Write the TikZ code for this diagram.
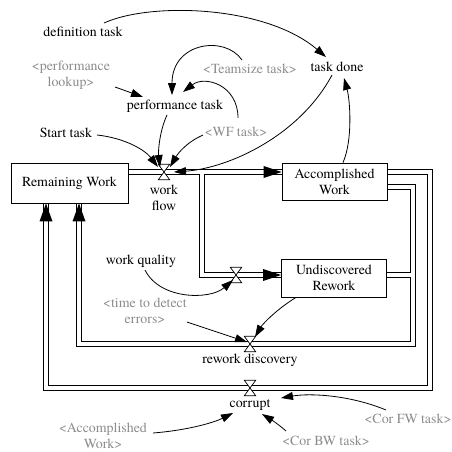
\documentclass[tikz,border=0pt]{standalone}
\usepackage{fontspec}
\setmainfont{texgyretermes}[Extension=.otf, UprightFont=*-regular, BoldFont=*-bold, ItalicFont=*-italic, BoldItalicFont=*-bolditalic]
\usetikzlibrary{arrows.meta,calc}
\definecolor{vgray}{gray}{0.55}
\pgfdeclarelayer{bg}
\pgfsetlayers{bg,main}
\begin{document}
\begin{tikzpicture}[x=1pt,y=-1pt,
  font=\rmfamily\fontsize{13.9}{16}\selectfont,
  txt/.style={inner sep=1pt, text height=9.5pt, text depth=3pt},
  mtxt/.style={inner sep=1pt, align=center},
  shadow/.style={text=vgray},
  stock/.style={draw, line width=0.8pt, fill=white, align=center, inner sep=0pt},
  valvenode/.style={inner sep=0pt, minimum width=11pt, minimum height=15pt},
  valveline/.style={draw, fill=white, line width=0.7pt, line join=miter},
  pipeout/.style={line width=5.4pt, draw=black, line join=miter},
  pipein/.style={line width=3.4pt, draw=white, line join=miter},
  inf/.style={line width=0.8pt, -{Triangle[length=12pt,width=8pt]}},
  pipehead/.style={fill=black},
]
\useasboundingbox (0,0) rectangle (452,451);

% text nodes
\node[txt] (deftask) at (83,33) {definition task};
\node[mtxt,shadow] (perflook) at (71,75) {<performance\\lookup>};
\node[txt,shadow] (teamsize) at (250,70) {<Teamsize task>};
\node[txt] (taskdone) at (337,68) {task done};
\node[txt] (perftask) at (175,106) {performance task};
\node[txt] (starttask) at (66,134) {Start task};
\node[txt,shadow] (wftask) at (236,133) {<WF task>};
\node[mtxt] (wflabel) at (164,198) {work\\flow};
\node[txt] (wq) at (141,261) {work quality};
\node[mtxt,shadow] (ttde) at (145,311) {<time to detect\\errors>};
\node[txt] (rdlabel) at (250,360) {rework discovery};
\node[txt] (corlabel) at (250,404) {corrupt};
\node[mtxt,shadow] (accw) at (103,436) {<Accomplished\\Work>};
\node[txt,shadow] (corbw) at (326,442) {<Cor BW task>};
\node[txt,shadow] (corfw) at (408,420) {<Cor FW task>};

% stocks
\node[stock,minimum width=117pt,minimum height=40pt] (rw) at (69.5,183) {Remaining Work};
\node[stock,minimum width=105pt,minimum height=37pt] (aw) at (334.5,181.5) {Accomplished\\Work};
\node[stock,minimum width=105pt,minimum height=38pt] (ur) at (334,278) {Undiscovered\\Rework};

% valves
\node[valvenode] (wf) at (164,172) {};
\node[valvenode] (v2) at (236,275) {};
\node[valvenode] (rd) at (250,344) {};
\node[valvenode] (cor) at (250,388) {};

% pipe corners
\coordinate (j1) at (202,172);
\coordinate (r1) at (413,187);
\coordinate (l1) at (79,344);
\coordinate (r2) at (430,172);
\coordinate (l2) at (46,388);

\begin{pgfonlayer}{bg}
\foreach \st in {pipeout,pipein}{
  \draw[\st] (rw.east |- wf) -- (aw.west |- wf);
  \draw[\st] (j1) -- (j1 |- v2) -- (ur.west |- v2);
  \draw[\st] ([yshift=-5.5pt]aw.east) -- (r1) -- (r1 |- rd) -- (l1) -- (l1 |- rw.south);
  \draw[\st] (ur.east |- v2) -- (r1 |- v2);
  \draw[\st] (aw.east |- wf) -- (r2) -- (r2 |- cor) -- (l2) -- (l2 |- rw.south);
}
\end{pgfonlayer}

% pipe heads
\fill[pipehead] ($(aw.west |- wf)+(-18,-6)$) -- (aw.west |- wf) -- ($(aw.west |- wf)+(-18,6)$) -- cycle;
\fill[pipehead] ($(ur.west |- v2)+(-18,-6)$) -- (ur.west |- v2) -- ($(ur.west |- v2)+(-18,6)$) -- cycle;
\fill[pipehead] ($(l1 |- rw.south)+(-6.5,18)$) -- (l1 |- rw.south) -- ($(l1 |- rw.south)+(6.5,18)$) -- cycle;
\fill[pipehead] ($(l2 |- rw.south)+(-6.5,18)$) -- (l2 |- rw.south) -- ($(l2 |- rw.south)+(6.5,18)$) -- cycle;

% valve glyphs
\foreach \v in {wf,v2,rd,cor}{
  \draw[valveline] (\v.north west) -- (\v.north east) -- (\v.south west) -- (\v.south east) -- cycle;
}

% influence arrows
\draw[inf] ([shift={(21,-10)}]deftask.center) .. controls +(46,-21) and +(-61,-52) .. ([shift={(-11,-11)}]taskdone.center);
\draw[inf] ([shift={(44,12)}]perflook.center) -- ([shift={(-32,-9)}]perftask.center);
\draw[inf] ([shift={(-8,-10)}]teamsize.center) .. controls +(-17,-25) and +(0,-53) .. ([shift={(-3,-11)}]perftask.center);
\draw[inf] ([shift={(2,-15)}]wftask.center) .. controls +(0,-33) and +(22,-17) .. ([shift={(8,-14)}]perftask.center);
\draw[inf] ([shift={(-8,9)}]perftask.center) .. controls +(-7,15) and +(-2,-17) .. ([shift={(-4,-5)}]wf.center);
\draw[inf] ([shift={(31,1)}]starttask.center) .. controls +(28,3) and +(-13,-17) .. ([shift={(-6,-5)}]wf.center);
\draw[inf] ([shift={(-33,2)}]wftask.center) .. controls +(-18,8) and +(7,-12) .. ([shift={(6,-5)}]wf.center);
\draw[inf] ([shift={(-5,7)}]taskdone.center) .. controls +(-32,60) and +(56,-4) .. ([shift={(10,0)}]wf.center);
\draw[inf] ([xshift=8.5pt]aw.north) .. controls +(10,-23) and +(6,22) .. ([shift={(7,10)}]taskdone.center);
\draw[inf] ([shift={(4,9)}]wq.center) .. controls +(15,30) and +(-23,20) .. ([shift={(-3,5)}]v2.center);
\draw[inf] ([shift={(42,11)}]ttde.center) -- ([shift={(-3,-2)}]rd.center);
\draw[inf] ([xshift=-38pt]ur.south) .. controls +(-21,13) and +(7,-12) .. ([shift={(5,-7)}]rd.center);
\draw[inf] ([shift={(50,-3)}]accw.center) .. controls +(37,-3) and +(-18,9) .. ([shift={(-17,9)}]corlabel.center);
\draw[inf] ([shift={(-40,-11)}]corbw.center) .. controls +(-9,-8) and +(8,5) .. ([shift={(12,10)}]corlabel.center);
\draw[inf] ([shift={(-22,-10)}]corfw.center) .. controls +(-36,-15) and +(29,-5) .. ([shift={(31,-6)}]corlabel.center);
\end{tikzpicture}
\end{document}
